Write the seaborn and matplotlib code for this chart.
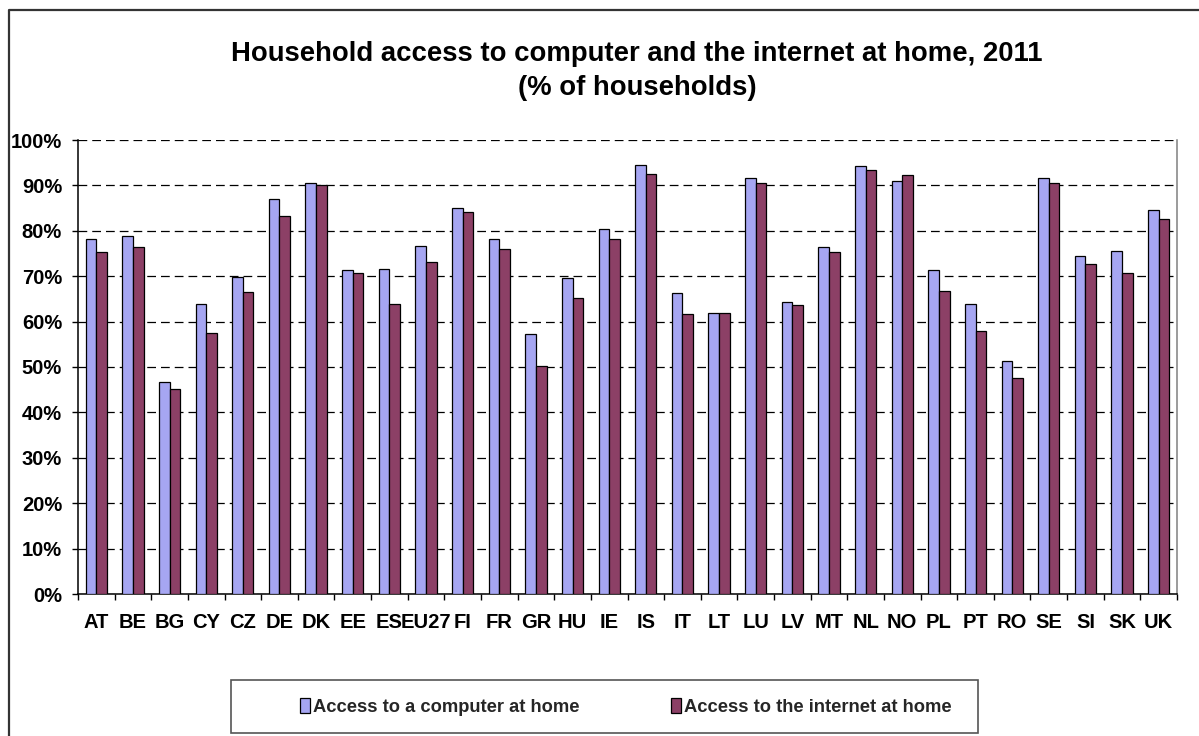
import matplotlib
matplotlib.use("Agg")
import matplotlib.pyplot as plt
import seaborn as sns
import pandas as pd
import numpy as np
from matplotlib.lines import Line2D
from matplotlib.patches import Rectangle

# ---------------- data ----------------
countries = ["AT", "BE", "BG", "CY", "CZ", "DE", "DK", "EE", "ES", "EU27",
             "FI", "FR", "GR", "HU", "IE", "IS", "IT", "LT", "LU", "LV",
             "MT", "NL", "NO", "PL", "PT", "RO", "SE", "SI", "SK", "UK"]
computer = [78.1, 78.8, 46.8, 63.9, 69.9, 86.9, 90.5, 71.4, 71.5, 76.7,
            85.1, 78.2, 57.3, 69.7, 80.5, 94.6, 66.2, 61.8, 91.7, 64.3,
            76.4, 94.2, 91.0, 71.3, 63.8, 51.3, 91.6, 74.4, 75.5, 84.6]
internet = [75.4, 76.5, 45.1, 57.4, 66.6, 83.3, 90.1, 70.8, 63.9, 73.1,
            84.1, 76.0, 50.2, 65.2, 78.1, 92.6, 61.6, 61.8, 90.6, 63.7,
            75.3, 93.5, 92.3, 66.7, 58.0, 47.5, 90.6, 72.6, 70.8, 82.7]
series_names = ["Access to a computer at home", "Access to the internet at home"]
y_ticks = [0, 10, 20, 30, 40, 50, 60, 70, 80, 90, 100]
title_lines = ["Household access to computer and the internet at home, 2011",
               "(% of households)"]

df = pd.DataFrame({
    "country": countries * 2,
    "value": computer + internet,
    "series": [series_names[0]] * len(countries) + [series_names[1]] * len(countries),
})

# ---------------- style ----------------
sns.set_theme(style="white")
plt.rcParams['font.family'] = ['Liberation Sans', 'DejaVu Sans']
plt.rcParams['font.weight'] = 'bold'

W, H = 1199, 736
fig = plt.figure(figsize=(W / 100, H / 100), dpi=100)
fig.patch.set_facecolor("white")

x0, x1, yt, yb = 78, 1177, 140, 594
ax = fig.add_axes([x0 / W, 1 - yb / H, (x1 - x0) / W, (yb - yt) / H])

colors = ["#9999FF", "#993366"]
sns.barplot(data=df, x="country", y="value", hue="series", palette=colors,
            width=0.58, gap=0, edgecolor="black", linewidth=0.9,
            errorbar=None, ax=ax, zorder=3)

handles, labels = ax.get_legend_handles_labels()
if ax.get_legend() is not None:
    ax.get_legend().remove()

ax.set_xlim(-0.5, len(countries) - 0.5)
ax.set_ylim(0, 100)
ax.set_xlabel("")
ax.set_ylabel("")

ax.set_yticks(y_ticks)
ax.set_yticklabels([f"{v}%" for v in y_ticks], fontsize=14.5, fontweight="bold")
ax.yaxis.grid(True, linestyle=(0, (7, 4)), color="black", linewidth=0.9)
ax.xaxis.grid(False)
ax.set_axisbelow(True)

ax.set_xticks(range(len(countries)))
ax.set_xticklabels(countries, fontsize=14.5, fontweight="bold")
ax.set_xticks(np.arange(-0.5, len(countries), 1), minor=True)
ax.tick_params(axis="x", which="major", length=0, pad=14, colors="black")
ax.tick_params(axis="x", which="minor", length=4.5, width=1, direction="out",
               bottom=True, color="black")
ax.tick_params(axis="y", which="major", length=4.5, width=1, direction="out",
               left=True, pad=7, colors="black")

for s in ["left", "bottom"]:
    ax.spines[s].set_color("black")
    ax.spines[s].set_linewidth(1.1)
ax.spines["right"].set_color("#808080")
ax.spines["right"].set_linewidth(1.1)
ax.spines["top"].set_visible(False)

# title
fig.text(637 / W, 1 - 54 / H, title_lines[0], ha="center", va="center",
         fontsize=19.8, fontweight="bold", color="black")
fig.text(637 / W, 1 - 88 / H, title_lines[1], ha="center", va="center",
         fontsize=19.8, fontweight="bold", color="black")

# legend box and legend
fig.patches.append(Rectangle((231 / W, 1 - 733 / H), 747 / W, 53 / H,
                             transform=fig.transFigure, fill=False,
                             edgecolor="#555555", linewidth=1.2))
fig.legend(handles, labels, loc="center", bbox_to_anchor=(626 / W, 1 - 707 / H),
           bbox_transform=fig.transFigure, ncol=2, frameon=False,
           prop={"size": 13.2, "weight": "bold"}, handlelength=0.55,
           handleheight=0.85, handletextpad=0.15, columnspacing=5.0)

# outer frame
fig.add_artist(Line2D([9 / W, 9 / W, 1.0], [0.0, 1 - 10 / H, 1 - 10 / H],
                      transform=fig.transFigure, color="#333333", linewidth=1.6))

fig.savefig("out.png", dpi=100, facecolor="white")
